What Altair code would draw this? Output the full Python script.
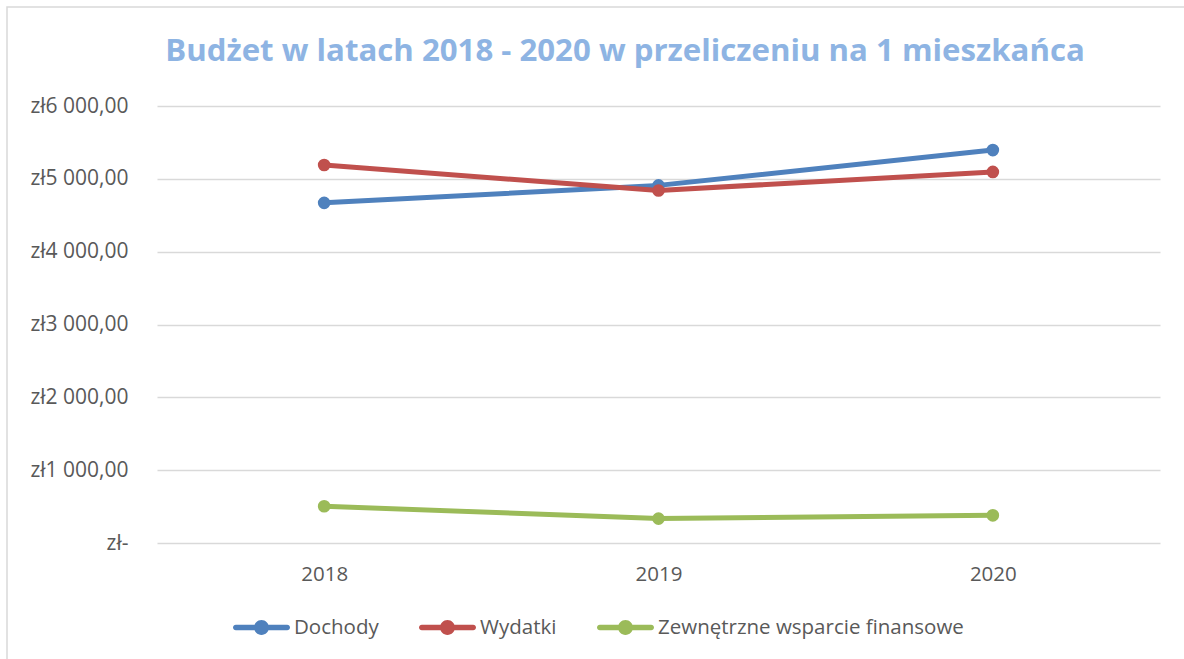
import altair as alt
import pandas as pd

years = ["2018", "2019", "2020"]
series = ["Dochody", "Wydatki", "Zewnętrzne wsparcie finansowe"]
dochody = [4670, 4910, 5395]
wydatki = [5190, 4840, 5095]
wsparcie = [505, 335, 380]
colors = ["#4F81BD", "#C0504D", "#9BBB59"]
y_ticks = [0, 1000, 2000, 3000, 4000, 5000, 6000]
title_text = "Budżet w latach 2018 - 2020 w przeliczeniu na 1 mieszkańca"

rows = []
for name, vals in zip(series, [dochody, wydatki, wsparcie]):
    for yr, v in zip(years, vals):
        rows.append({"rok": yr, "seria": name, "wartosc": v})
df = pd.DataFrame(rows)

FONT = "Open Sans"
W, H = 1003, 437

x_enc = alt.X("rok:N", scale=alt.Scale(type="point", padding=0.5, domain=years),
              axis=alt.Axis(title=None, labelAngle=0, domain=False, ticks=False,
                            labelPadding=21, labelFontSize=20.5, labelFont=FONT,
                            labelColor="#595959", grid=False))
y_enc = alt.Y("wartosc:Q", scale=alt.Scale(domain=[0, 6000], nice=False, zero=True),
              axis=alt.Axis(title=None, values=y_ticks, domain=False, ticks=False,
                            labelPadding=29, labelFontSize=21, labelFont=FONT,
                            labelColor="#595959", grid=True, gridColor="#D9D9D9",
                            gridWidth=1.3,
                            labelExpr="datum.value == 0 ? 'zł-\u00a0\u00a0' : 'zł' + floor(datum.value/1000) + '\u00a0000,00'"))

color_scale = alt.Scale(domain=series, range=colors)

symbol_path = ("M-0.9,-0.1 L0.9,-0.1 A0.1,0.1 0 0,1 0.9,0.1 L-0.9,0.1 A0.1,0.1 0 0,1 -0.9,-0.1 Z "
               "M0.26,0 A0.26,0.26 0 1,1 -0.26,0 A0.26,0.26 0 1,1 0.26,0 Z")

lines = alt.Chart(df).mark_line(strokeWidth=5, strokeCap="round", strokeJoin="round").encode(
    x=x_enc, y=y_enc,
    color=alt.Color("seria:N", scale=color_scale, legend=None),
)

points = alt.Chart(df).mark_point(filled=True, size=160, opacity=1).encode(
    x=x_enc, y=y_enc,
    color=alt.Color("seria:N", scale=color_scale,
                    legend=alt.Legend(title=None, orient="none", direction="horizontal",
                                      legendX=76, legendY=493, symbolType=symbol_path,
                                      symbolSize=3249, symbolStrokeWidth=0,
                                      labelFont=FONT, labelFontSize=20.5, labelColor="#595959",
                                      labelOffset=4, labelLimit=1000, columnPadding=40,
                                      padding=0)),
)

border = alt.Chart(pd.DataFrame({"k": [0]})).mark_rect(
    fill="transparent", stroke="#D9D9D9", strokeWidth=1.5
).encode(x=alt.value(-150), x2=alt.value(1040), y=alt.value(-99), y2=alt.value(570))

title = alt.Chart(pd.DataFrame({"t": [title_text]})).mark_text(
    font=FONT, fontSize=31.2, fontWeight="bold", color="#8EB4E3",
    align="center", baseline="alphabetic"
).encode(text="t:N", x=alt.value(468), y=alt.value(-45))

chart = alt.layer(border, title, lines, points).resolve_legend(color="independent").properties(
    width=W, height=H,
    background="white",
    autosize=alt.AutoSizeParams(type="none"),
    padding={"left": 157, "top": 106, "right": 24, "bottom": 116},
).configure_view(stroke=None, strokeWidth=0)

chart.save("out.html", embed_options={"renderer": "svg", "actions": False})
